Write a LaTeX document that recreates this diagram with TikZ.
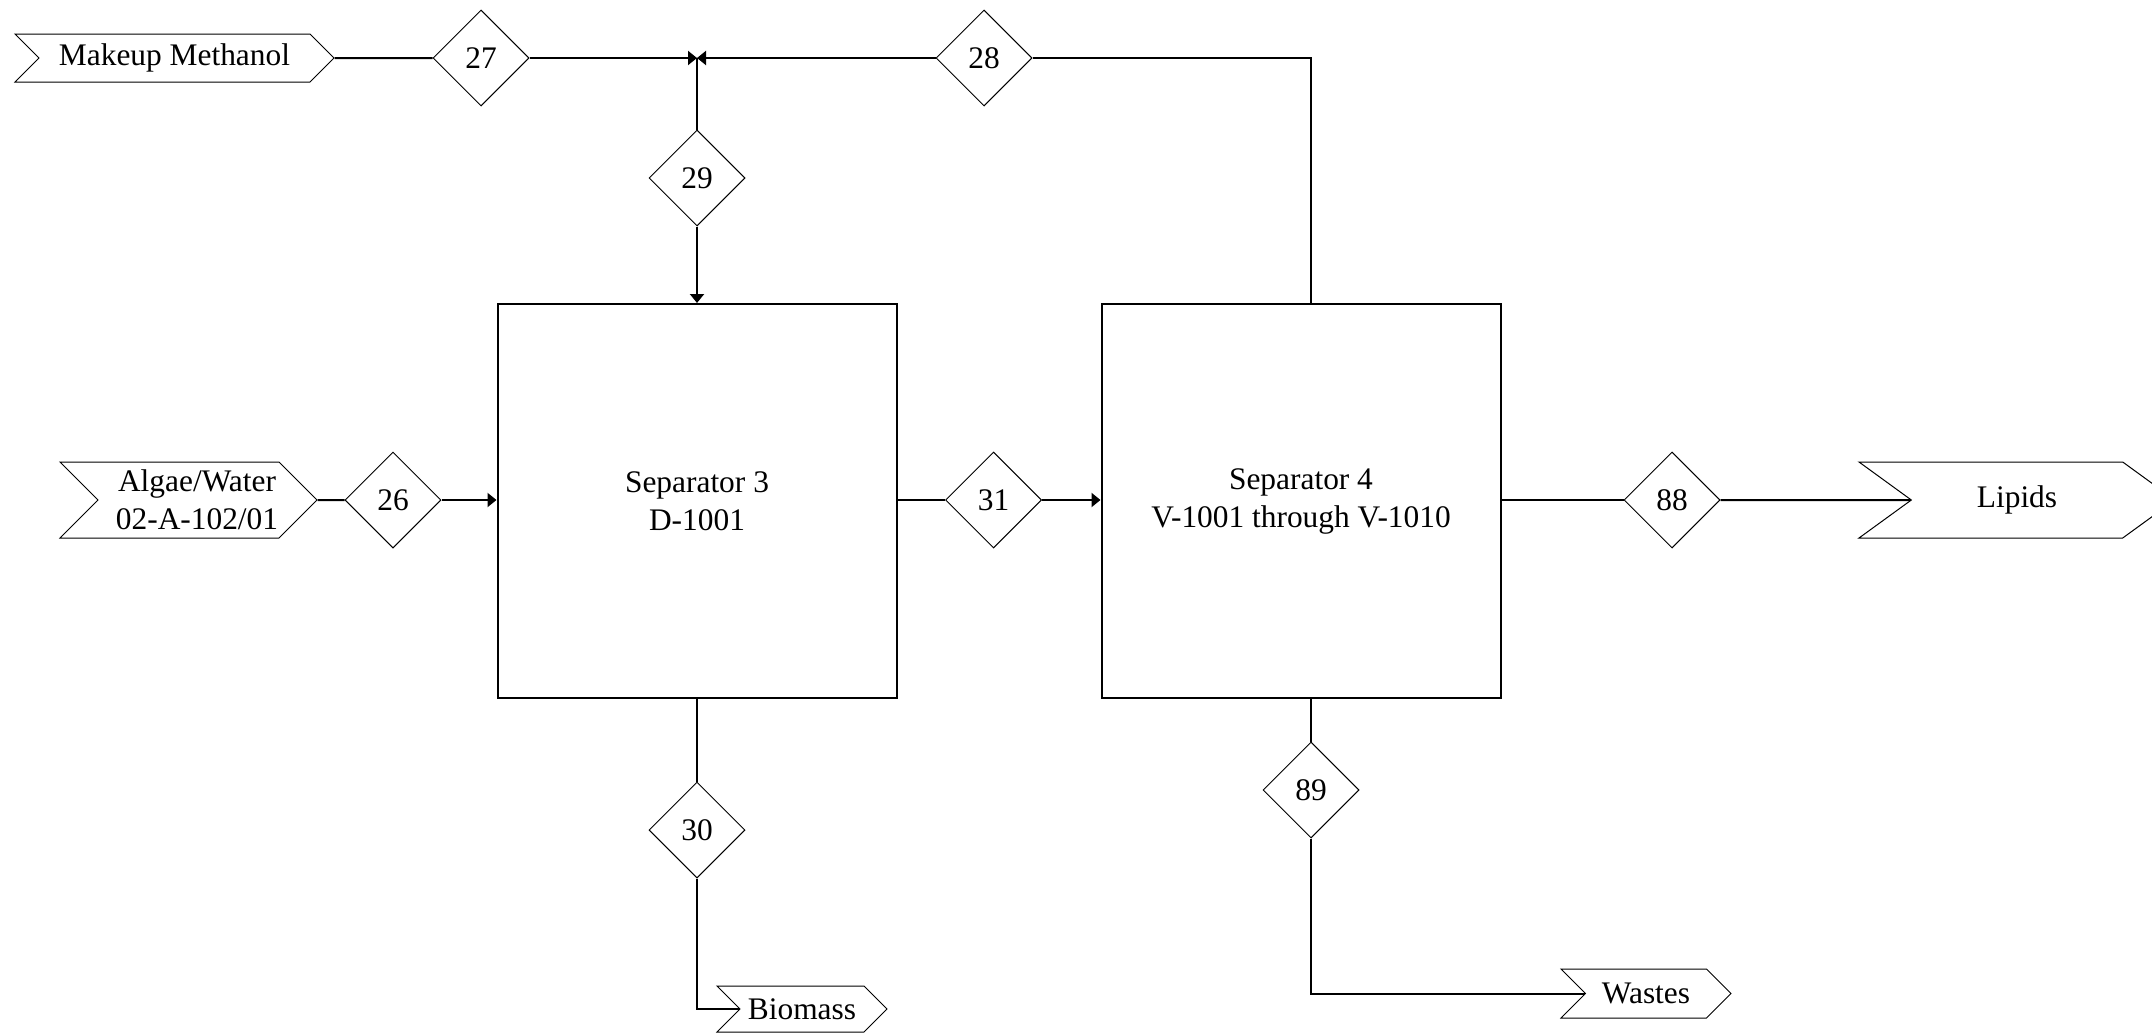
\documentclass[tikz,border=0pt]{standalone}
\usepackage{fontspec}
\setmainfont{Liberation Serif}
\usetikzlibrary{shapes.geometric, shapes.symbols, arrows.meta, positioning}

\begin{document}
\begin{tikzpicture}[
        x=0.5pt, y=-0.5pt,
        >={Triangle[length=4.5pt, width=7pt]},
        font=\fontsize{15.7}{19}\selectfont,
        % Equipos, corrientes numeradas y flechas de entrada/salida
        equipo/.style={draw, line width=1pt, rectangle, minimum width=199.5pt, minimum height=197pt, align=center},
        corriente/.style={draw, line width=0.5pt, diamond, aspect=1, minimum size=48pt, inner sep=0pt},
        flecha/.style={draw, line width=0.5pt, signal, signal to=east, signal from=west, signal pointer angle=90, inner sep=0pt, align=center},
        linea/.style={line width=1pt},
        entra/.style={linea, ->}
    ]
    \clip (0,0) rectangle (2152,1033);

    % Separadores
    \node[equipo] (sep3) at (697,501) {Separator 3\\D-1001};
    \node[equipo] (sep4) at (1301,501) {Separator 4\\V-1001 through V-1010};

    % Entradas y salidas
    \node[flecha, minimum width=159.5pt, minimum height=24pt] (metanol) at (174.5,58) {Makeup Methanol};
    \node[flecha, minimum width=128.5pt, minimum height=38pt] (algas) at (188.5,500) {\hspace*{8.5pt}Algae/Water\\\hspace*{8.5pt}02-A-102/01};
    \node[flecha, minimum width=158pt, minimum height=38pt, signal pointer angle=72] (lipidos) at (2017,500) {Lipids};
    \node[flecha, minimum width=85pt, minimum height=23pt] (biomasa) at (802,1009) {Biomass};
    \node[flecha, minimum width=85pt, minimum height=24.5pt] (residuos) at (1646,993.5) {Wastes};

    % Numeros de corriente
    \node[corriente] (c27) at (481,58) {27};
    \node[corriente] (c28) at (984,58) {28};
    \node[corriente] (c29) at (697,178) {29};
    \node[corriente] (c26) at (393,500) {26};
    \node[corriente] (c31) at (993.5,500) {31};
    \node[corriente] (c88) at (1672,500) {88};
    \node[corriente] (c30) at (697,830) {30};
    \node[corriente] (c89) at (1311,790) {89};

    \coordinate (union) at (sep3.north |- c27);

    % Metanol y reciclo hacia el separador 3
    \draw[linea] (metanol.0) -- (c27.west);
    \draw[entra] (c27.east) -- (union);
    \draw[linea] (c89 |- sep4.north) |- (c28.east);
    \draw[entra] (c28.west) -- (union);
    \draw[linea] (union) -- (c29.north);
    \draw[entra] (c29.south) -- (sep3.north);

    % Alimentacion y paso entre separadores
    \draw[linea] (algas.0) -- (c26.west);
    \draw[entra] (c26.east) -- (c26.east -| sep3.west);
    \draw[linea] (c31.west -| sep3.east) -- (c31.west);
    \draw[entra] (c31.east) -- (c31.east -| sep4.west);

    % Productos
    \draw[linea] (c88.west -| sep4.east) -- (c88.west);
    \draw[linea] (c88.east) -- (lipidos.180);
    \draw[linea] (sep3.south) -- (c30.north);
    \draw[linea] (c30.south) |- (biomasa.180);
    \draw[linea] (c89 |- sep4.south) -- (c89.north);
    \draw[linea] (c89.south) |- (residuos.180);
\end{tikzpicture}
\end{document}
